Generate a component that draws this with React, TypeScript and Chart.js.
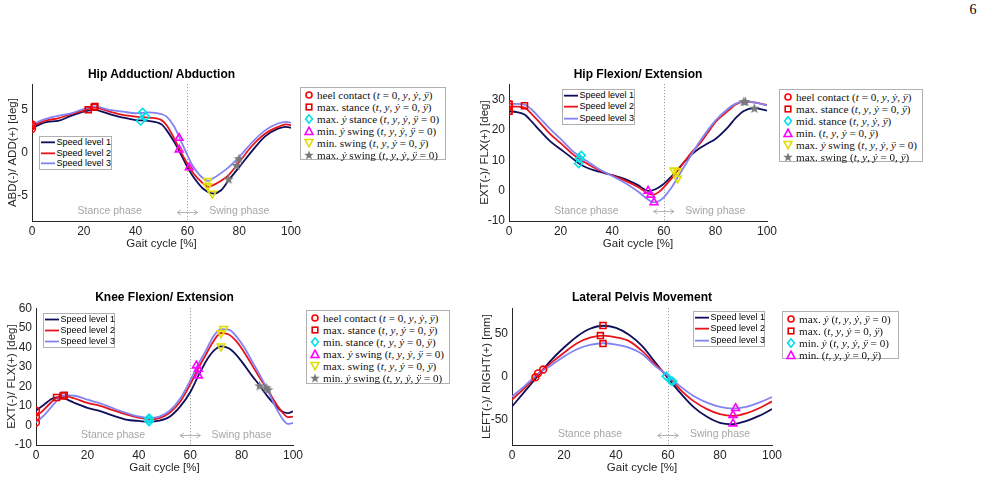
import React, { useEffect, useRef } from "react";
import { Chart, registerables } from "chart.js";

Chart.register(...registerables);

const SANS = "'Liberation Sans', Arial, Helvetica, sans-serif";
const SERIF = "'Liberation Serif', 'Times New Roman', serif";
const INK = "#262626";
const NOTE = "#a6a6a6";

// ---------- shared ----------
const gaitTicks = [0, 20, 40, 60, 80, 100];
const speedNames = ["Speed level 1", "Speed level 2", "Speed level 3"];
const speedColors = ["#0d0d5c", "#e8141c", "#8383f2"];
const phaseNames = ["Stance phase", "Swing phase"];
const phaseBoundary = 60;
const stanceLabelX = 30;
const swingLabelX = 80;
const arrowFrom = 56;
const arrowTo = 64;

// ---------- Hip Adduction / Abduction ----------
const hipAbdX = [0, 3, 6, 10, 15, 20, 24, 30, 35, 40, 45, 50, 52, 55, 57, 60, 62, 66, 68, 70, 73, 76, 80, 85, 90, 95, 98, 100];
const hipAbdS1 = [2.8, 3.3, 3.6, 3.7, 4.3, 4.8, 5.0, 4.5, 4.1, 3.8, 3.7, 3.3, 2.6, 1.2, 0.1, -1.7, -2.7, -4.2, -4.6, -4.8, -4.4, -3.2, -1.7, 0.2, 1.9, 2.8, 3.0, 2.9];
const hipAbdS2 = [3.1, 3.5, 3.8, 4.0, 4.5, 4.9, 5.3, 4.8, 4.4, 4.2, 4.1, 3.8, 3.2, 1.6, 0.35, -1.3, -2.3, -3.6, -4.0, -3.8, -3.3, -2.6, -1.1, 0.8, 2.2, 3.0, 3.3, 3.2];
const hipAbdS3 = [3.3, 3.7, 4.0, 4.3, 4.6, 5.1, 5.4, 5.0, 4.8, 4.6, 4.7, 4.5, 4.2, 3.0, 1.7, -0.3, -1.5, -3.0, -3.3, -3.0, -2.4, -1.7, -0.5, 1.2, 2.6, 3.4, 3.6, 3.5];
const hipAbdYTicks = [-5, 0, 5];
const hipAbdHeelX = [0, 0, 0];
const hipAbdHeelY = [2.8, 3.1, 3.3];
const hipAbdMaxStanceX = [21.7, 24, 24.3];
const hipAbdMaxStanceY = [5.0, 5.3, 5.4];
const hipAbdMaxDyStanceX = [41.9, 43.9, 42.7];
const hipAbdMaxDyStanceY = [3.7, 4.2, 4.7];
const hipAbdMinDySwingX = [60.7, 56.8, 56.8];
const hipAbdMinDySwingY = [-1.75, 0.35, 1.7];
const hipAbdMinSwingX = [69.6, 67.8, 67.8];
const hipAbdMinSwingY = [-4.8, -3.9, -3.3];
const hipAbdMaxDySwingX = [75.9, 79, 79.9];
const hipAbdMaxDySwingY = [-3.1, -1.5, -0.7];

// ---------- Hip Flexion / Extension ----------
const hipFlexX = [0, 3, 6, 9, 12, 16, 20, 24, 27, 30, 35, 40, 45, 50, 54, 56, 58, 60, 63, 65, 68, 71, 74, 77, 80, 85, 88, 91, 95, 100];
const hipFlexS1 = [26.1, 25.8, 25.0, 22.5, 19.7, 16.2, 13.6, 11.0, 9.0, 7.6, 6.2, 5.1, 3.8, 1.8, -0.1, 0.2, 1.0, 2.2, 4.7, 6.5, 9.5, 12.0, 14.0, 15.5, 17.0, 21.0, 24.0, 26.2, 27.1, 26.3];
const hipFlexS2 = [27.6, 27.6, 27.3, 25.0, 22.3, 18.6, 15.6, 12.5, 10.5, 9.0, 6.7, 5.0, 3.3, 1.2, -1.0, -1.3, -0.5, 1.1, 4.0, 6.2, 9.5, 12.8, 15.5, 19.0, 22.5, 26.3, 28.4, 29.3, 29.0, 28.2];
const hipFlexS3 = [28.5, 28.5, 28.3, 26.5, 23.8, 20.2, 17.0, 13.5, 11.5, 9.8, 7.0, 4.8, 2.5, -0.3, -3.0, -3.9, -3.5, -2.2, 1.0, 3.8, 8.0, 12.2, 16.2, 19.8, 23.0, 27.0, 28.7, 29.3, 29.0, 28.0];
const hipFlexYTicks = [-10, 0, 10, 20, 30];
const hipFlexHeelX = [0, 0, 0];
const hipFlexHeelY = [26.1, 27.6, 28.5];
const hipFlexMaxStanceX = [0, 6, 0];
const hipFlexMaxStanceY = [26.1, 27.9, 28.4];
const hipFlexMidStanceX = [27.0, 27.4, 28.0];
const hipFlexMidStanceY = [8.9, 10.5, 11.6];
const hipFlexMinX = [53.9, 54.9, 56.2];
const hipFlexMinY = [-0.1, -1.4, -3.9];
const hipFlexMaxDySwingX = [63.9, 65.2, 65.3];
const hipFlexMaxDySwingY = [6.7, 6.4, 4.0];
const hipFlexMaxSwingX = [95.1, 91.0, 91.6];
const hipFlexMaxSwingY = [27.1, 29.3, 29.3];

// ---------- Knee Flexion / Extension ----------
const kneeX = [0, 3, 6, 8, 11, 15, 20, 25, 30, 35, 40, 44, 48, 52, 56, 60, 63, 66, 69, 72, 75, 78, 81, 84, 87, 90, 93, 96, 98, 100];
const kneeS1 = [7.6, 10.5, 13.5, 14.3, 13.8, 11.5, 9.0, 7.3, 5.0, 3.0, 2.3, 2.0, 2.5, 4.5, 9.5, 17.0, 25.0, 32.5, 38.0, 40.5, 39.5, 36.0, 31.0, 25.5, 20.5, 15.0, 10.5, 7.0, 6.3, 7.2];
const kneeS2 = [4.5, 8.0, 12.0, 14.2, 15.1, 13.8, 11.5, 10.0, 7.8, 5.7, 4.0, 3.2, 3.8, 6.5, 12.0, 21.0, 28.9, 36.0, 43.0, 47.3, 46.5, 43.0, 37.5, 31.0, 24.5, 18.5, 12.0, 6.5, 4.3, 4.5];
const kneeS3 = [1.5, 5.0, 9.5, 12.5, 15.5, 15.2, 13.2, 11.3, 8.8, 6.5, 4.6, 3.8, 4.5, 7.5, 13.5, 23.0, 31.0, 38.0, 45.5, 49.3, 49.0, 45.5, 40.0, 33.0, 26.0, 18.5, 10.0, 3.2, 0.8, 1.3];
const kneeYTicks = [-10, 0, 10, 20, 30, 40, 50, 60];
const kneeHeelX = [0, 0, 0];
const kneeHeelY = [7.6, 4.5, 1.5];
const kneeMaxStanceX = [8, 10.5, 11];
const kneeMaxStanceY = [14.3, 15.1, 15.5];
const kneeMinStanceX = [44, 44, 44];
const kneeMinStanceY = [2.0, 3.2, 3.8];
const kneeMaxDySwingX = [63.2, 63.2, 62.4];
const kneeMaxDySwingY = [25.5, 28.9, 30.6];
const kneeMaxSwingX = [72, 72, 73];
const kneeMaxSwingY = [40.5, 47.3, 49.5];
const kneeMinDySwingX = [87, 89.6, 90.3];
const kneeMinDySwingY = [20.3, 19.3, 18.3];

// ---------- Lateral Pelvis Movement ----------
const pelvisX = [0, 5, 10, 15, 20, 25, 30, 35, 40, 45, 50, 55, 60, 65, 70, 75, 80, 85, 90, 95, 100];
const pelvisS1 = [-35, -17, 1, 19, 34, 47, 56, 59.5, 57, 49, 36, 17, -2, -20, -36, -47, -54, -55.5, -52, -46, -38];
const pelvisS2 = [-27, -13, 3, 16, 28, 39, 45.5, 48, 46, 41.5, 30, 14.5, 0, -16, -29, -38, -44, -46, -43, -37, -29];
const pelvisS3 = [-23.5, -10.5, 3, 13, 23.5, 32, 37, 39, 37.5, 34, 26.5, 12.5, 1, -12, -23, -30.5, -35.5, -37.5, -35.5, -30.5, -24];
const pelvisYTicks = [-50, 0, 50];
const pelvisMaxDyX = [9, 10, 12];
const pelvisMaxDyY = [-0.8, 3.8, 8.3];
const pelvisMaxX = [35, 34, 35];
const pelvisMaxY = [59.8, 48, 38.6];
const pelvisMinDyX = [59.3, 61.2, 61.8];
const pelvisMinDyY = [0.5, -5, -5.7];
const pelvisMinX = [85, 85, 86];
const pelvisMinY = [-55, -45, -37];

// ---------- marker styles ----------
type Kind = "circle" | "square" | "diamond" | "triUp" | "triDown" | "star";
const KIND_STYLE: Record<Kind, any> = {
  circle: { color: "#ff0000", style: "circle", radius: 3.4, rotation: 0 },
  square: { color: "#e60000", style: "rect", radius: 4.2, rotation: 0 },
  diamond: { color: "#00e0e8", style: "rectRot", radius: 4, rotation: 0 },
  triUp: { color: "#ff00ff", style: "triangle", radius: 4.5, rotation: 0 },
  triDown: { color: "#dede00", style: "triangle", radius: 4.5, rotation: 180 },
  star: { color: "#7a7a7a", style: "star", radius: 5, rotation: 0 },
};

interface Box { left: number; top: number; w: number; h: number }
interface PlotSpec {
  title: string; yTitle: string;
  L: number; R: number; T: number; B: number; yTitleX: number; titleY: number;
  yMin: number; yMax: number; yTicks: number[];
  x: number[]; series: number[][];
  markers: { kind: Kind; x: number[]; y: number[] }[];
  legend: { kind: Kind; text: string }[];
  noteY: number; speedBox: Box; markerBox: Box;
}

const plots: PlotSpec[] = [
  {
    title: "Hip Adduction/ Abduction", yTitle: "ABD(-)/ ADD(+) [deg]",
    L: 32, R: 291, T: 83, B: 221, yTitleX: 12.5, titleY: 75,
    yMin: -8, yMax: 8, yTicks: hipAbdYTicks,
    x: hipAbdX, series: [hipAbdS1, hipAbdS2, hipAbdS3],
    markers: [
      { kind: "circle", x: hipAbdHeelX, y: hipAbdHeelY },
      { kind: "square", x: hipAbdMaxStanceX, y: hipAbdMaxStanceY },
      { kind: "diamond", x: hipAbdMaxDyStanceX, y: hipAbdMaxDyStanceY },
      { kind: "triUp", x: hipAbdMinDySwingX, y: hipAbdMinDySwingY },
      { kind: "triDown", x: hipAbdMinSwingX, y: hipAbdMinSwingY },
      { kind: "star", x: hipAbdMaxDySwingX, y: hipAbdMaxDySwingY },
    ],
    legend: [
      { kind: "circle", text: "heel contact $(t = 0, y, ẏ, ÿ)$" },
      { kind: "square", text: "max. stance $(t, y, ẏ = 0, ÿ)$" },
      { kind: "diamond", text: "max. $ẏ$ stance $(t, y, ẏ, ÿ = 0)$" },
      { kind: "triUp", text: "min. $ẏ$ swing $(t, y, ẏ, ÿ = 0)$" },
      { kind: "triDown", text: "min. swing $(t, y, ẏ = 0, ÿ)$" },
      { kind: "star", text: "max. $ẏ$ swing $(t, y, ẏ, ÿ = 0)$" },
    ],
    noteY: -6.9,
    speedBox: { left: 39, top: 136, w: 73, h: 34 },
    markerBox: { left: 300, top: 87, w: 146, h: 73 },
  },
  {
    title: "Hip Flexion/ Extension", yTitle: "EXT(-)/ FLX(+) [deg]",
    L: 509, R: 767, T: 83, B: 221, yTitleX: 485, titleY: 75,
    yMin: -10, yMax: 35, yTicks: hipFlexYTicks,
    x: hipFlexX, series: [hipFlexS1, hipFlexS2, hipFlexS3],
    markers: [
      { kind: "circle", x: hipFlexHeelX, y: hipFlexHeelY },
      { kind: "square", x: hipFlexMaxStanceX, y: hipFlexMaxStanceY },
      { kind: "diamond", x: hipFlexMidStanceX, y: hipFlexMidStanceY },
      { kind: "triUp", x: hipFlexMinX, y: hipFlexMinY },
      { kind: "triDown", x: hipFlexMaxDySwingX, y: hipFlexMaxDySwingY },
      { kind: "star", x: hipFlexMaxSwingX, y: hipFlexMaxSwingY },
    ],
    legend: [
      { kind: "circle", text: "heel contact $(t = 0, y, ẏ, ÿ)$" },
      { kind: "square", text: "max. stance $(t, y, ẏ = 0, ÿ)$" },
      { kind: "diamond", text: "mid. stance $(t, y, ẏ, ÿ)$" },
      { kind: "triUp", text: "min. $(t, y, ẏ = 0, ÿ)$" },
      { kind: "triDown", text: "max. $ẏ$ swing $(t, y, ẏ, ÿ = 0)$" },
      { kind: "star", text: "max. swing $(t, y, ẏ = 0, ÿ)$" },
    ],
    noteY: -6.8,
    speedBox: { left: 562, top: 89, w: 73, h: 36 },
    markerBox: { left: 779, top: 89, w: 144, h: 73 },
  },
  {
    title: "Knee Flexion/ Extension", yTitle: "EXT(-)/ FLX(+) [deg]",
    L: 36, R: 293, T: 307, B: 445, yTitleX: 11.7, titleY: 298,
    yMin: -10, yMax: 60, yTicks: kneeYTicks,
    x: kneeX, series: [kneeS1, kneeS2, kneeS3],
    markers: [
      { kind: "circle", x: kneeHeelX, y: kneeHeelY },
      { kind: "square", x: kneeMaxStanceX, y: kneeMaxStanceY },
      { kind: "diamond", x: kneeMinStanceX, y: kneeMinStanceY },
      { kind: "triUp", x: kneeMaxDySwingX, y: kneeMaxDySwingY },
      { kind: "triDown", x: kneeMaxSwingX, y: kneeMaxSwingY },
      { kind: "star", x: kneeMinDySwingX, y: kneeMinDySwingY },
    ],
    legend: [
      { kind: "circle", text: "heel contact $(t = 0, y, ẏ, ÿ)$" },
      { kind: "square", text: "max. stance $(t, y, ẏ = 0, ÿ)$" },
      { kind: "diamond", text: "min. stance $(t, y, ẏ = 0, ÿ)$" },
      { kind: "triUp", text: "max. $ẏ$ swing $(t, y, ẏ, ÿ = 0)$" },
      { kind: "triDown", text: "max. swing $(t, y, ẏ = 0, ÿ)$" },
      { kind: "star", text: "min. $ẏ$ swing $(t, y, ẏ, ÿ = 0)$" },
    ],
    noteY: -4.7,
    speedBox: { left: 43, top: 313, w: 72, h: 35 },
    markerBox: { left: 306, top: 310, w: 144, h: 74 },
  },
  {
    title: "Lateral Pelvis Movement", yTitle: "LEFT(-)/ RIGHT(+) [mm]",
    L: 512, R: 772, T: 307, B: 445, yTitleX: 486.7, titleY: 298,
    yMin: -80, yMax: 80, yTicks: pelvisYTicks,
    x: pelvisX, series: [pelvisS1, pelvisS2, pelvisS3],
    markers: [
      { kind: "circle", x: pelvisMaxDyX, y: pelvisMaxDyY },
      { kind: "square", x: pelvisMaxX, y: pelvisMaxY },
      { kind: "diamond", x: pelvisMinDyX, y: pelvisMinDyY },
      { kind: "triUp", x: pelvisMinX, y: pelvisMinY },
    ],
    legend: [
      { kind: "circle", text: "max. $ẏ$ $(t, y, ẏ, ÿ = 0)$" },
      { kind: "square", text: "max. $(t, y, ẏ = 0, ÿ)$" },
      { kind: "diamond", text: "min. $ẏ$ $(t, y, ẏ, ÿ = 0)$" },
      { kind: "triUp", text: "min. $(t, y, ẏ = 0, ÿ)$" },
    ],
    noteY: -67.8,
    speedBox: { left: 693, top: 311, w: 72, h: 36 },
    markerBox: { left: 782, top: 311, w: 117, h: 48 },
  },
];

function makeStar(size: number, color: string) {
  const c = document.createElement("canvas");
  c.width = size; c.height = size;
  const ctx = c.getContext("2d")!;
  const cx = size / 2, cy = size / 2 + 0.4, R = size / 2, r = R * 0.42;
  ctx.beginPath();
  for (let i = 0; i < 10; i++) {
    const a = -Math.PI / 2 + (i * Math.PI) / 5;
    const rad = i % 2 === 0 ? R : r;
    ctx.lineTo(cx + rad * Math.cos(a), cy + rad * Math.sin(a));
  }
  ctx.closePath();
  ctx.fillStyle = color;
  ctx.fill();
  return c;
}

const PT = 10, PR = 14, XH = 30;

function PlotCanvas({ p }: { p: PlotSpec }) {
  const ref = useRef<HTMLCanvasElement | null>(null);
  const left = Math.round(p.yTitleX - 9);
  const yW = p.L - left;
  const w = yW + (p.R - p.L) + PR;
  const h = PT + (p.B - p.T) + XH;

  useEffect(() => {
    const canvas = ref.current;
    if (!canvas) return;
    const starImg = makeStar(11, KIND_STYLE.star.color);
    const lineSets = p.series.map((ys, i) => ({
      type: "line",
      label: speedNames[i],
      data: p.x.map((x, j) => ({ x, y: ys[j] })),
      borderColor: speedColors[i],
      borderWidth: 1.8,
      pointRadius: 0,
      cubicInterpolationMode: "monotone",
      fill: false,
      order: 3 - i,
    }));
    const markerSets = p.markers.map((m) => {
      const st = KIND_STYLE[m.kind];
      return {
        type: "line",
        label: m.kind,
        data: m.x.map((x, j) => ({ x, y: m.y[j] })),
        showLine: false,
        pointStyle: m.kind === "star" ? starImg : st.style,
        pointRadius: st.radius,
        pointRotation: st.rotation,
        pointBorderColor: st.color,
        pointBackgroundColor: "rgba(0,0,0,0)",
        pointBorderWidth: 1.6,
        order: 0,
      };
    });
    const notes = {
      id: "phaseNotes",
      beforeDatasetsDraw(chart: any) {
        const { ctx, chartArea, scales } = chart;
        const xs = scales.x, ys = scales.y;
        ctx.save();
        const px = Math.round(xs.getPixelForValue(phaseBoundary)) + 0.5;
        ctx.strokeStyle = "#8c8c8c";
        ctx.lineWidth = 1;
        ctx.setLineDash([1, 2]);
        ctx.beginPath();
        ctx.moveTo(px, chartArea.top);
        ctx.lineTo(px, chartArea.bottom);
        ctx.stroke();
        ctx.setLineDash([]);
        const py = ys.getPixelForValue(p.noteY);
        ctx.fillStyle = NOTE;
        ctx.font = `10.5px ${SANS}`;
        ctx.textAlign = "center";
        ctx.textBaseline = "middle";
        ctx.fillText(phaseNames[0], xs.getPixelForValue(stanceLabelX), py);
        ctx.fillText(phaseNames[1], xs.getPixelForValue(swingLabelX), py);
        const a1 = xs.getPixelForValue(arrowFrom), a2 = xs.getPixelForValue(arrowTo);
        const ay = Math.round(py) + 0.5;
        ctx.strokeStyle = "#b3b3b3";
        ctx.lineWidth = 1;
        ctx.beginPath();
        ctx.moveTo(a1, ay); ctx.lineTo(a2, ay);
        ctx.moveTo(a1 + 4, ay - 2.5); ctx.lineTo(a1, ay); ctx.lineTo(a1 + 4, ay + 2.5);
        ctx.moveTo(a2 - 4, ay - 2.5); ctx.lineTo(a2, ay); ctx.lineTo(a2 - 4, ay + 2.5);
        ctx.stroke();
        ctx.restore();
      },
    };
    const chart = new Chart(canvas, {
      type: "line",
      data: { datasets: [...markerSets, ...lineSets] as any },
      options: {
        responsive: false,
        animation: false,
        events: [],
        layout: { padding: { top: PT, right: PR, left: 0, bottom: 0 } },
        plugins: { legend: { display: false }, title: { display: false }, tooltip: { enabled: false } },
        scales: {
          x: {
            type: "linear",
            min: 0,
            max: 100,
            afterBuildTicks: (axis: any) => { axis.ticks = gaitTicks.map((v) => ({ value: v })); },
            afterFit: (axis: any) => { axis.height = XH; },
            grid: { display: true, drawOnChartArea: false, drawTicks: false },
            border: { display: true, color: INK, width: 1 },
            ticks: { color: INK, font: { family: SANS, size: 12 }, padding: 3, maxRotation: 0, autoSkip: false },
            title: { display: true, text: "Gait cycle [%]", color: INK, font: { family: SANS, size: 11.5 }, padding: { top: 0, bottom: 0 } },
          },
          y: {
            type: "linear",
            min: p.yMin,
            max: p.yMax,
            afterBuildTicks: (axis: any) => { axis.ticks = p.yTicks.map((v) => ({ value: v })); },
            afterFit: (axis: any) => { axis.width = yW; },
            grid: { display: true, drawOnChartArea: false, drawTicks: false },
            border: { display: true, color: INK, width: 1 },
            ticks: { color: INK, font: { family: SANS, size: 12 }, padding: 4, autoSkip: false },
            title: { display: true, text: p.yTitle, color: INK, font: { family: SANS, size: 11.5 }, padding: { top: 2, bottom: 0 } },
          },
        },
      } as any,
      plugins: [notes as any],
    });
    return () => chart.destroy();
  }, [p]);

  return (
    <canvas
      ref={ref}
      width={w}
      height={h}
      style={{ position: "absolute", left, top: p.T - PT, width: w, height: h, display: "block" }}
    />
  );
}

function MarkerIcon({ kind }: { kind: Kind }) {
  const c = KIND_STYLE[kind].color;
  const s = { fill: "none", stroke: c, strokeWidth: 1.6 };
  let shape: any = null;
  if (kind === "circle") shape = <circle cx={5} cy={5} r={3} {...s} />;
  else if (kind === "square") shape = <rect x={2.2} y={2.2} width={5.6} height={5.6} {...s} />;
  else if (kind === "diamond") shape = <polygon points="5,0.8 8.4,5 5,9.2 1.6,5" {...s} />;
  else if (kind === "triUp") shape = <polygon points="5,1.2 9,8.5 1,8.5" {...s} />;
  else if (kind === "triDown") shape = <polygon points="1,1.5 9,1.5 5,8.8" {...s} />;
  else {
    const pts: string[] = [];
    for (let i = 0; i < 10; i++) {
      const a = -Math.PI / 2 + (i * Math.PI) / 5;
      const rad = i % 2 === 0 ? 5 : 2.1;
      pts.push(`${(5 + rad * Math.cos(a)).toFixed(2)},${(5.4 + rad * Math.sin(a)).toFixed(2)}`);
    }
    shape = <polygon points={pts.join(" ")} fill={c} stroke="none" />;
  }
  return <svg width={10} height={10} style={{ display: "block" }}>{shape}</svg>;
}

function LegendText({ text }: { text: string }) {
  const segs = text.split("$");
  return (
    <>
      {segs.map((seg, i) =>
        i % 2 === 0 ? (
          <span key={i}>{seg}</span>
        ) : (
          <span key={i}>
            {Array.from(seg).map((ch, k) =>
              /[tyẏÿ]/.test(ch) ? <i key={k}>{ch}</i> : <span key={k}>{ch}</span>
            )}
          </span>
        )
      )}
    </>
  );
}

function MarkerLegend({ p }: { p: PlotSpec }) {
  const b = p.markerBox;
  return (
    <div style={{ position: "absolute", left: b.left, top: b.top, width: b.w, height: b.h, boxSizing: "border-box", border: "1px solid #b0b0b0", background: "#fff" }}>
      {p.legend.map((row, i) => (
        <div key={i} style={{ position: "absolute", left: 0, top: 0.5 + i * 12, height: 12, width: b.w - 2 }}>
          <div style={{ position: "absolute", left: 3, top: 1 }}><MarkerIcon kind={row.kind} /></div>
          <div style={{ position: "absolute", left: 16, top: 0, lineHeight: "12px", font: `11.1px ${SERIF}`, color: "#111", whiteSpace: "nowrap" }}>
            <LegendText text={row.text} />
          </div>
        </div>
      ))}
    </div>
  );
}

function SpeedLegend({ p }: { p: PlotSpec }) {
  const b = p.speedBox;
  const rowH = (b.h - 2) / 3;
  return (
    <div style={{ position: "absolute", left: b.left, top: b.top, width: b.w, height: b.h, boxSizing: "border-box", border: "1px solid #b0b0b0", background: "#fff" }}>
      {speedNames.map((name, i) => (
        <div key={i} style={{ position: "absolute", left: 0, top: i * rowH, height: rowH, width: b.w - 2 }}>
          <svg width={16} height={rowH} style={{ position: "absolute", left: 0, top: 0 }}>
            <line x1={1} x2={15} y1={rowH / 2} y2={rowH / 2} stroke={speedColors[i]} strokeWidth={1.8} />
          </svg>
          <div style={{ position: "absolute", left: 16.5, top: 0, lineHeight: `${rowH}px`, font: `9px ${SANS}`, color: "#000", whiteSpace: "nowrap" }}>{name}</div>
        </div>
      ))}
    </div>
  );
}

export default function App() {
  return (
    <div style={{ position: "absolute", left: 0, top: 0, width: 983, height: 481, background: "#fff", overflow: "hidden" }}>
      <div style={{ position: "absolute", left: 963, top: 2, width: 20, textAlign: "center", font: `14px ${SERIF}`, color: "#000" }}>6</div>
      {plots.map((p, i) => (
        <React.Fragment key={i}>
          <PlotCanvas p={p} />
          <div style={{ position: "absolute", left: (p.L + p.R) / 2 - 150, width: 300, top: p.titleY - 8, lineHeight: "16px", textAlign: "center", font: `bold 12px ${SANS}`, color: "#000" }}>{p.title}</div>
          <SpeedLegend p={p} />
          <MarkerLegend p={p} />
        </React.Fragment>
      ))}
    </div>
  );
}
